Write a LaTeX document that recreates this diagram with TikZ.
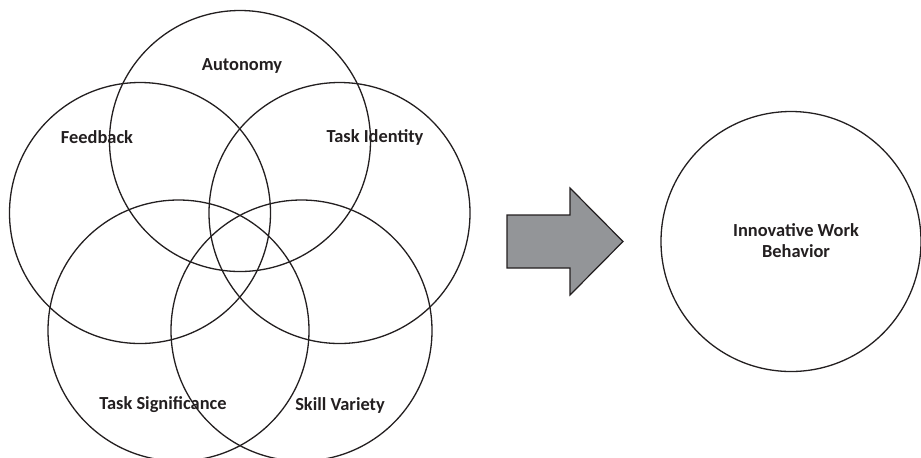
\documentclass[tikz,border=0pt]{standalone}
\usepackage{fontspec}
\setmainfont{Carlito}
\usepackage{xcolor}
\usepackage{tikz}
\usetikzlibrary{positioning}

\definecolor{ink}{HTML}{231F20}
\definecolor{arrowgray}{HTML}{939598}

\begin{document}
\begin{tikzpicture}[
    x=0.5pt, y=-0.5pt,
    font=\fontsize{9.2}{10.5}\selectfont\bfseries,
    ring/.style={draw=ink, line width=0.65pt},
    facet/.style={text=ink, align=center, inner sep=0pt},
    bigarrow/.style={draw=ink, fill=arrowgray, line width=0.6pt},
]
    \useasboundingbox (0,0) rectangle (921,457);

    % Job characteristics
    \coordinate (auto) at (240,141);
    \coordinate (feed) at (140,213);
    \coordinate (ident) at (339.5,213);
    \coordinate (signif) at (178.5,330.5);
    \coordinate (skill) at (301.5,330.5);

    \draw[ring] (auto) circle (130.5);
    \draw[ring] (feed) circle (130.5);
    \draw[ring] (ident) circle (130.5);
    \draw[ring] (signif) circle (130.5);
    \draw[ring] (skill) circle (130.5);

    \node[facet] (autolbl) at (242,66) {Autonomy};
    \node[facet] (feedlbl) at (97,137) {Feedback};
    \node[facet] (identlbl) at (375,137) {Task Identity};
    \node[facet] (signiflbl) at (163,405) {Task Significance};
    \node[facet] (skilllbl) at (340,405) {Skill Variety};

    % Arrow
    \draw[bigarrow] (507,215) -- (570,215) -- (570,188) -- (623,241.5)
        -- (570,295) -- (570,268) -- (507,268) -- cycle;

    % Outcome
    \coordinate (iwb) at (791,241.5);
    \draw[ring] (iwb) circle (130);
    \node[facet] (iwblbl) at (796,241) {Innovative Work\\Behavior};
\end{tikzpicture}
\end{document}
